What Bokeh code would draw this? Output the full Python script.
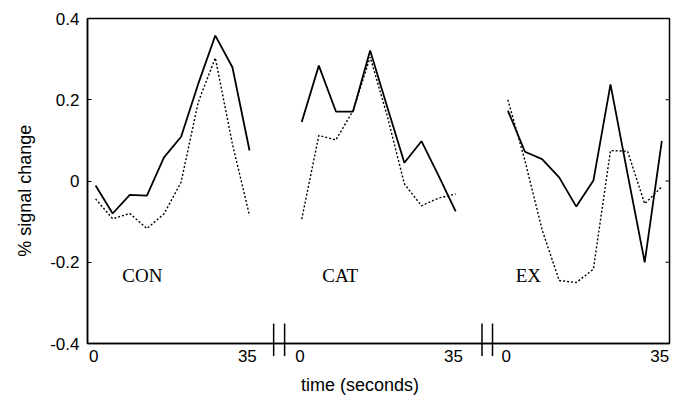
import math
from bokeh.plotting import figure
from bokeh.models import FixedTicker, Range1d
from bokeh.core.properties import value
from bokeh.embed import file_html
from bokeh.resources import INLINE

# time points (seconds) within each condition block
t = [0.4, 4.3, 8.2, 12.1, 16.0, 19.9, 23.8, 27.7, 31.6, 35.5]
conditions = ["CON", "CAT", "EX"]

# % signal change, solid and dotted series per condition
con_solid = [-0.011, -0.080, -0.034, -0.036, 0.058, 0.109, 0.239, 0.358, 0.280, 0.075]
con_dotted = [-0.044, -0.093, -0.080, -0.117, -0.081, -0.003, 0.194, 0.303, 0.091, -0.085]
cat_solid = [0.145, 0.284, 0.171, 0.171, 0.321, 0.182, 0.045, 0.098, 0.013, -0.075]
cat_dotted = [-0.094, 0.112, 0.101, 0.173, 0.305, 0.160, -0.007, -0.061, -0.042, -0.032]
ex_solid = [0.173, 0.072, 0.054, 0.009, -0.063, 0.001, 0.238, 0.017, -0.200, 0.099]
ex_dotted = [0.200, 0.050, -0.120, -0.245, -0.250, -0.217, 0.075, 0.073, -0.056, -0.014]

x_tick_labels = ["0", "35"]
y_ticks = [-0.4, -0.2, 0, 0.2, 0.4]
y_tick_labels = ["-0.4", "-0.2", "0", "0.2", "0.4"]
x_title = "time (seconds)"
y_title = "% signal change"

# layout of the broken axis (block offsets on a shared axis)
seg_offsets = [0, 47, 94]
break_pairs = [(41.0, 43.5), (88.5, 90.9)]
x_lo, x_hi = -1.44, 131.25

solid = [con_solid, cat_solid, ex_solid]
dotted = [con_dotted, cat_dotted, ex_dotted]

p = figure(width=683, height=397,
           x_range=Range1d(x_lo, x_hi), y_range=Range1d(-0.4, 0.4),
           output_backend="svg", toolbar_location=None,
           min_border_left=87, min_border_right=14, min_border_top=18, min_border_bottom=54)
p.grid.visible = False
p.background_fill_color = "white"
p.border_fill_color = "white"
p.outline_line_color = "black"
p.outline_line_width = 1.5
p.outline_line_alpha = 1

for off, s, d in zip(seg_offsets, solid, dotted):
    xs = [off + v for v in t]
    p.line(xs, s, line_color="black", line_width=1.8)
    p.line(xs, d, line_color="black", line_width=1.4, line_dash="2 2")

# condition labels
label_x = [6.5, 5.1, 2.2]
p.text(x=[off + lx for off, lx in zip(seg_offsets, label_x)], y=[-0.233] * 3, text=conditions,
       text_font=value("Liberation Serif"), text_font_size="19px", text_color="black",
       text_baseline="alphabetic", text_align="left")

# axis break marks
bx = [b for pair in break_pairs for b in pair]
p.segment(x0=bx, y0=[-0.351] * len(bx), x1=bx, y1=[-0.431] * len(bx),
          line_color="black", line_width=1.5, level="overlay")

# small inward ticks on the right border
p.ray(x=[x_hi] * len(y_ticks), y=y_ticks, length=4, length_units="screen",
      angle=math.pi, line_color="black", line_width=1.2)

# x axis
xt = []
xover = {}
for off in seg_offsets:
    for lab in x_tick_labels:
        v = off + float(lab)
        xt.append(v)
        xover[v] = lab
p.xaxis.ticker = FixedTicker(ticks=xt)
p.xaxis.major_label_overrides = xover
p.xaxis.major_tick_in = 0
p.xaxis.major_tick_out = 0
p.xaxis.minor_tick_line_color = None
p.xaxis.major_label_standoff = 6

# y axis
p.yaxis.ticker = FixedTicker(ticks=y_ticks)
p.yaxis.major_label_overrides = {v: l for v, l in zip(y_ticks, y_tick_labels)}
p.yaxis.major_tick_in = 4
p.yaxis.major_tick_out = 0
p.yaxis.minor_tick_line_color = None
p.yaxis.major_label_standoff = 8

for ax in [p.xaxis[0], p.yaxis[0]]:
    ax.axis_line_color = "black"
    ax.axis_line_width = 1.5
    ax.major_tick_line_color = "black"
    ax.major_label_text_color = "black"
    ax.major_label_text_font = "Liberation Sans"
    ax.major_label_text_font_size = "17px"

# axis titles, drawn as unclipped text placed like the reference
p.text(x=[60.7], y=[-0.502], text=[x_title], text_font=value("Liberation Sans"),
       text_font_size="18px", text_color="black", text_align="center",
       text_baseline="middle", level="overlay")
p.text(x=[-15.8], y=[-0.024], text=[y_title], text_font=value("Liberation Sans"),
       text_font_size="18px", text_color="black", text_align="center",
       text_baseline="middle", angle=math.pi / 2, level="overlay")

open("out.html", "w").write(file_html(p, INLINE))
